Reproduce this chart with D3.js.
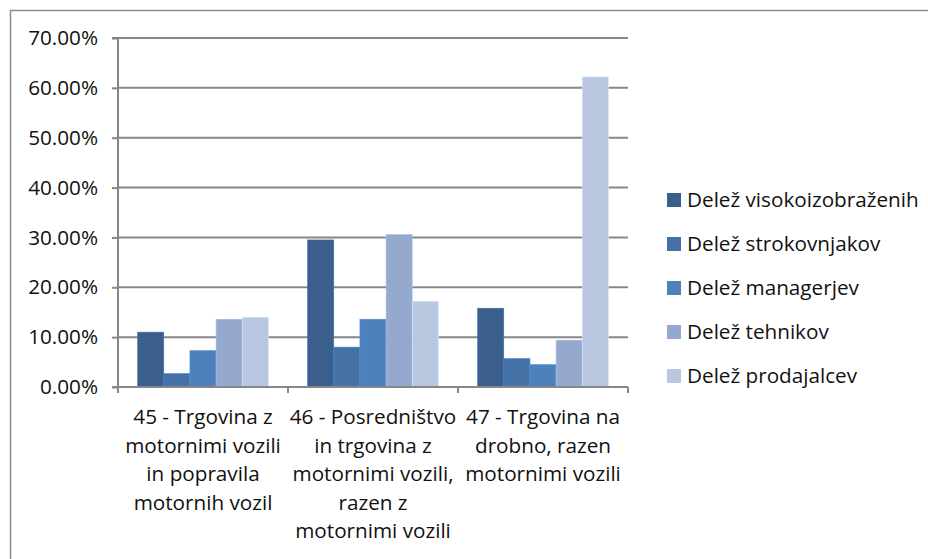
<!DOCTYPE html>
<html>
<head>
<meta charset="utf-8">
<script src="https://cdn.jsdelivr.net/npm/d3@7"></script>
<style>
  body { margin: 0; background: #fff; }
  svg text { font-family: "Open Sans", sans-serif; fill: #111; }
  .grid line { stroke: #878787; stroke-width: 2; }
  .axis path, .axis line { stroke: #878787; stroke-width: 2; }
</style>
</head>
<body>
<div id="chart"></div>
<script>
// Data
var categories = [
  ["45 - Trgovina z", "motornimi vozili", "in popravila", "motornih vozil"],
  ["46 - Posredništvo", "in trgovina z", "motornimi vozili,", "razen z", "motornimi vozili"],
  ["47 - Trgovina na", "drobno, razen", "motornimi vozili"]
];
var seriesNames = [
  "Delež visokoizobraženih",
  "Delež strokovnjakov",
  "Delež managerjev",
  "Delež tehnikov",
  "Delež prodajalcev"
];
var visokoizobrazeni = [0.110, 0.295, 0.158];
var strokovnjaki = [0.027, 0.080, 0.057];
var managerji = [0.073, 0.136, 0.045];
var tehniki = [0.136, 0.306, 0.094];
var prodajalci = [0.140, 0.172, 0.622];
var yTicks = [0, 0.1, 0.2, 0.3, 0.4, 0.5, 0.6, 0.7];

var seriesValues = [visokoizobrazeni, strokovnjaki, managerji, tehniki, prodajalci];
var colors = ["#3b5f8d", "#4472a7", "#4e80bc", "#95a9cf", "#bac7e0"];

var fontSize = 20.7;

var render = function() {
  var width = 928;
  var height = 559;
  var margins = { top: 38, right: 300, bottom: 172, left: 118 };
  var chartWidth = width - margins.left - margins.right;
  var chartHeight = height - margins.top - margins.bottom;

  var svg = d3.select("#chart")
    .append("svg")
    .attr("width", width)
    .attr("height", height);

  // Outer frame (runs off the right and bottom edges)
  svg.append("rect")
    .attr("x", 10.5)
    .attr("y", 10.5)
    .attr("width", 940)
    .attr("height", 600)
    .attr("fill", "none")
    .attr("stroke", "#8c8c8c")
    .attr("stroke-width", 1.5);

  var chart = svg.append("g")
    .attr("transform", `translate(${margins.left},${margins.top})`);

  var catIndex = categories.map((d, i) => i);

  var xScale = d3.scaleBand()
    .domain(catIndex)
    .range([0, chartWidth]);

  var xSub = d3.scaleBand()
    .domain(seriesNames.map((d, i) => i))
    .range([0, xScale.bandwidth()])
    .paddingInner(0)
    .paddingOuter(0.75);

  var yScale = d3.scaleLinear()
    .domain([0, 0.7])
    .range([chartHeight, 0]);

  // Grid
  chart.append("g")
    .attr("class", "grid")
    .selectAll("line")
    .data(yTicks.slice(1))
    .enter()
    .append("line")
    .attr("x1", 0)
    .attr("x2", chartWidth)
    .attr("y1", d => yScale(d))
    .attr("y2", d => yScale(d));

  // Bars
  seriesValues.forEach(function(values, s) {
    chart.append("g")
      .selectAll("rect")
      .data(values)
      .enter()
      .append("rect")
      .attr("x", (d, i) => xScale(i) + xSub(s))
      .attr("width", xSub.bandwidth())
      .attr("y", d => yScale(d))
      .attr("height", d => chartHeight - yScale(d))
      .attr("fill", colors[s])
      .attr("stroke", d3.color(colors[s]).brighter(0.4))
      .attr("stroke-width", 0.6);
  });

  // Y axis
  var yAxis = d3.axisLeft(yScale)
    .tickValues(yTicks)
    .tickSize(6)
    .tickPadding(14)
    .tickFormat(d => (d * 100).toFixed(2) + "%");

  chart.append("g")
    .attr("class", "y axis")
    .call(yAxis)
    .call(g => g.select(".domain").attr("d", `M-6,${chartHeight}H0V0H-6`))
    .selectAll("text")
    .attr("font-size", fontSize)
    .attr("font-family", "Open Sans, sans-serif")
    .attr("fill", "#111");

  // X axis baseline and category ticks
  var xAxis = chart.append("g")
    .attr("class", "x axis")
    .attr("transform", `translate(0,${chartHeight})`);

  xAxis.append("path")
    .attr("d", `M0,0H${chartWidth}`)
    .attr("fill", "none");

  xAxis.selectAll("line")
    .data(catIndex.concat([categories.length]))
    .enter()
    .append("line")
    .attr("x1", d => d < categories.length ? xScale(d) : chartWidth)
    .attr("x2", d => d < categories.length ? xScale(d) : chartWidth)
    .attr("y1", 0)
    .attr("y2", 6);

  // Category labels
  xAxis.selectAll("text.cat")
    .data(categories)
    .enter()
    .append("text")
    .attr("class", "cat")
    .attr("text-anchor", "middle")
    .attr("font-size", fontSize)
    .attr("transform", (d, i) => `translate(${xScale(i) + xScale.bandwidth() / 2},0)`)
    .selectAll("tspan")
    .data(d => d)
    .enter()
    .append("tspan")
    .attr("x", 0)
    .attr("y", (d, j) => 37 + j * 28.5)
    .text(d => d);

  // Legend
  var legend = svg.append("g")
    .attr("class", "legend")
    .attr("transform", "translate(667,200)");

  var items = legend.selectAll("g")
    .data(seriesNames)
    .enter()
    .append("g")
    .attr("transform", (d, i) => `translate(0,${i * 44})`);

  items.append("rect")
    .attr("x", 0)
    .attr("y", -7)
    .attr("width", 14)
    .attr("height", 14)
    .attr("fill", (d, i) => colors[i]);

  items.append("text")
    .attr("x", 20)
    .attr("y", 0)
    .attr("dy", "0.35em")
    .attr("font-size", fontSize)
    .text(d => d);
};

window.onload = render;
</script>
</body>
</html>
